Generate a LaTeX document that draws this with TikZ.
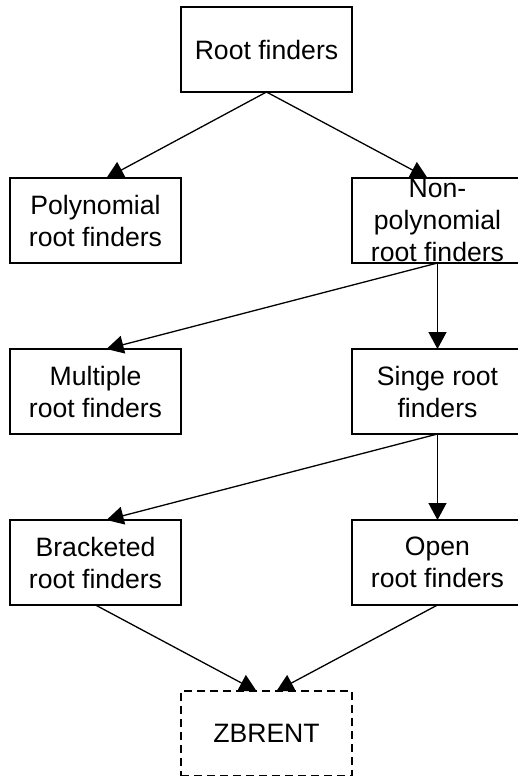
\documentclass[tikz,border=0pt]{standalone}
\usepackage{fontspec}
\setmainfont{Liberation Sans}
\usetikzlibrary{positioning, arrows.meta}

\begin{document}
\begin{tikzpicture}[
				box/.style = {draw, line width=1.3pt, minimum width=171pt, minimum height=85pt,
					inner sep=0pt, outer sep=0pt, align=center,
					font=\fontsize{26.6}{32}\selectfont},
				dbox/.style = {box, dash pattern=on 8pt off 5pt},
				arr/.style = {line width=1.3pt, -{Triangle[length=17pt, width=18pt]}}
			]
				\useasboundingbox (0pt,0pt) rectangle (518pt,-776pt);
				\node[box] (root) at (266.5pt,-49.5pt) {Root finders};
				%
				\node[box] (poly)    [below left=86pt and 0pt of root.south west]  {Polynomial\\root finders};
				\node[box] (nonpoly) [below right=86pt and 0pt of root.south east] {Non-\\polynomial\\root finders};
				%
				\node[box] (multiple) [below=86pt of poly]    {Multiple\\root finders};
				\node[box] (single)   [below=86pt of nonpoly] {Singe root\\finders};
				%
				\node[box] (bracketed) [below=86pt of multiple] {Bracketed\\root finders};
				\node[box] (open)      [below=86pt of single]   {Open\\root finders};
				%
				\node[dbox] (zbrent) [below right=86pt and 0pt of bracketed.south east] {ZBRENT};

				\draw[arr] (root.south) -- ([xshift=11pt]poly.north);
				\draw[arr] (root.south) -- ([xshift=-10pt]nonpoly.north);
				\draw[arr] (nonpoly.south) -- ([xshift=11pt]multiple.north);
				\draw[arr] (nonpoly.south) -- (single.north);
				\draw[arr] (single.south) -- ([xshift=11pt]bracketed.north);
				\draw[arr] (single.south) -- (open.north);
				\draw[arr] (bracketed.south) -- ([xshift=-10pt]zbrent.north);
				\draw[arr] (open.south) -- ([xshift=10pt]zbrent.north);

			\end{tikzpicture}
\end{document}
